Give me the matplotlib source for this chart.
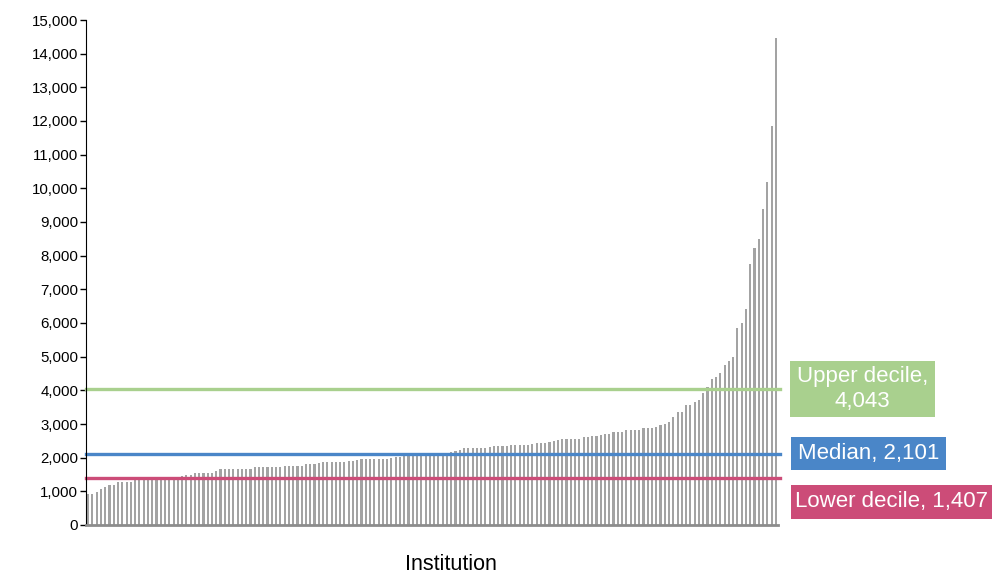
import matplotlib.pyplot as plt
import numpy as np
from matplotlib.ticker import FuncFormatter
from matplotlib.patches import Rectangle

plt.rcParams['font.family'] = ['Liberation Sans', 'DejaVu Sans']

# sorted values per institution
values = [
    920, 920, 970, 1070, 1130, 1180, 1180, 1280, 1280, 1280, 1290, 1340, 1340, 1350,
    1390, 1395, 1410, 1420, 1420, 1430, 1440, 1440, 1450, 1480, 1490, 1530, 1535,
    1540, 1545, 1550, 1600, 1650, 1650, 1655, 1655, 1660, 1660, 1665, 1670, 1710,
    1710, 1715, 1715, 1720, 1720, 1725, 1750, 1755, 1755, 1760, 1765, 1810, 1815, 1820,
    1830, 1860, 1860, 1865, 1870, 1870, 1875, 1910, 1915, 1920, 1960, 1960, 1965, 1965,
    1970, 1970, 1975, 1980, 2010, 2020, 2080, 2085, 2090, 2090, 2095, 2100, 2105,
    2120, 2130, 2140, 2150, 2170, 2200, 2230, 2280, 2280, 2285, 2285, 2290, 2295, 2330,
    2335, 2335, 2340, 2345, 2375, 2380, 2380, 2385, 2390, 2405, 2445, 2445, 2450,
    2455, 2505, 2510, 2555, 2555, 2560, 2560, 2565, 2605, 2610, 2650, 2655, 2660, 2700,
    2705, 2750, 2755, 2760, 2820, 2825, 2830, 2830, 2870, 2875, 2880, 2920, 2970,
    2990, 3070, 3200, 3350, 3360, 3555, 3560, 3655, 3710, 3930, 4090, 4345, 4385, 4505,
    4750, 4880, 4980, 5840, 5990, 6415, 7745, 8220, 8485, 9385, 10180, 11860, 14455,
]

stat_names = ['Upper decile', 'Median', 'Lower decile']
stat_values = [4043, 2101, 1407]
stat_colors = ['#A9D08E', '#4A86C8', '#CC4C78']
stat_labels = ['Upper decile,\n4,043', 'Median, 2,101', 'Lower decile, 1,407']

W, H = 992, 574
fig = plt.figure(figsize=(W / 100, H / 100), dpi=100)
ax = fig.add_axes([86 / W, 1 - 525 / H, 692 / W, 505 / H])

x = np.arange(len(values))
ax.bar(x, values, width=0.5, color='#A3A3A3')

for v, c in zip(stat_values, stat_colors):
    ax.axhline(v, color=c, lw=2.4, xmax=1.003, clip_on=False)

ax.set_xlim(-0.5, len(values) - 0.5)
ax.set_ylim(0, 15000)
ax.set_yticks(range(0, 15001, 1000))
ax.yaxis.set_major_formatter(FuncFormatter(lambda v, p: f'{int(v):,}'))
ax.tick_params(axis='y', labelsize=10.8, length=4, width=1, direction='out', pad=1.5)
ax.set_xticks([])

for s in ['top', 'right']:
    ax.spines[s].set_visible(False)
ax.spines['left'].set_color('black')
ax.spines['bottom'].set_color('#8C8C8C')
ax.spines['bottom'].set_linewidth(2)

fig.text(451 / W, 1 - 565 / H, 'Institution', fontsize=15.5, ha='center', va='center')

# label boxes on the right (pixel boxes: left, top, width, height)
boxes = [(790, 361, 145, 56), (791, 437, 155, 33), (791, 485, 201, 34)]
for lab, c, (bx, by, bw, bh) in zip(stat_labels, stat_colors, boxes):
    fig.add_artist(Rectangle((bx / W, 1 - (by + bh) / H), bw / W, bh / H,
                             transform=fig.transFigure, fc=c, ec='none'))
    fig.text((bx + bw / 2) / W, 1 - (by + bh / 2) / H, lab, color='white',
             fontsize=16, ha='center', va='center', multialignment='center',
             linespacing=1.25)

fig.savefig('out.png', dpi=100)
